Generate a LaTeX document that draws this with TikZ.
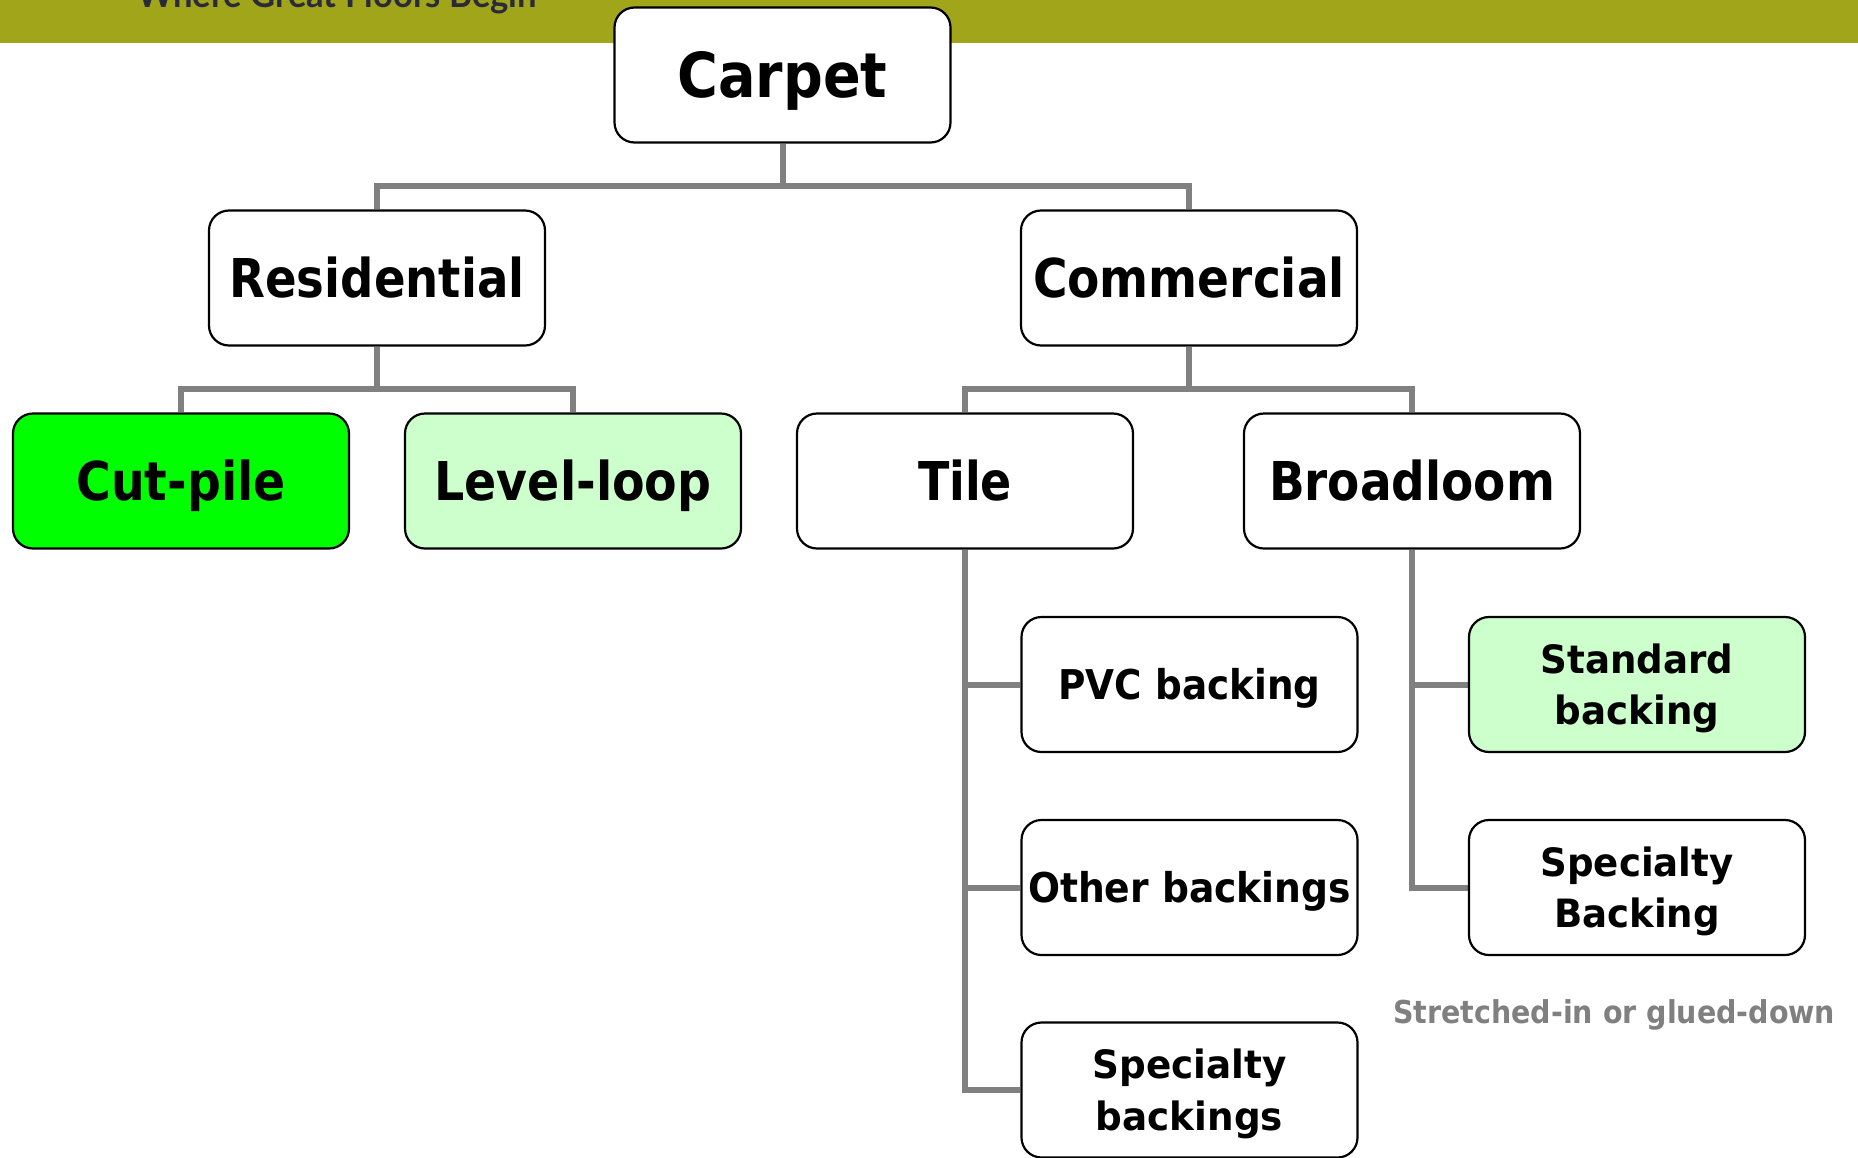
\documentclass[tikz,border=0pt]{standalone}
\usepackage{fontspec}
\setmainfont{DejaVu Sans}
\newfontfamily\hdrfont{Lato}
\usepackage{graphicx}
\usetikzlibrary{backgrounds}
\definecolor{bandolive}{HTML}{A1A51A}
\definecolor{linegray}{HTML}{808080}
\definecolor{hdrtext}{HTML}{2B2A3A}
\definecolor{brightgreen}{HTML}{00FF00}
\definecolor{palegreen}{HTML}{CCFFCC}
\newsavebox\fitbox
\newlength\fitlen
\newcommand\fitw[2]{\sbox\fitbox{#2}\setlength\fitlen{\wd\fitbox}\pgfmathsetmacro\fitratio{#1/\fitlen}\scalebox{\fitratio}[1]{\usebox\fitbox}}
\tikzset{
  box/.style={draw=black, line width=2.2pt, rounded corners=20pt, fill=white,
    minimum width=336pt, minimum height=135pt, inner sep=0pt},
  lvlA/.style={box, font=\bfseries\fontsize{62}{62}\selectfont, text height=45pt, text depth=-12pt},
  lvlB/.style={box, font=\bfseries\fontsize{53.5}{54}\selectfont, text height=39pt, text depth=-8pt},
  lvlC/.style={box, font=\bfseries\fontsize{41}{41}\selectfont, text height=30pt, text depth=-9pt},
  lvlD/.style={box, font=\bfseries\fontsize{39}{51.5}\selectfont, text height=80pt, text depth=-6.5pt},
  conn/.style={draw=linegray, line width=6pt},
}
\begin{document}
\begin{tikzpicture}[x=1pt, y=-1pt]
\useasboundingbox (0,0) rectangle (1858,1157);
\begin{scope}
\clip (0,0) rectangle (1858,1157);
\fill[bandolive] (0,0) rectangle (1858,43);
\node[anchor=base west, inner sep=0pt, font=\hdrfont\bfseries\fontsize{36}{36}\selectfont, text=hdrtext] (hdr) at (137,7) {\fitw{400}{Where Great Floors Begin}};

\node[lvlA] (carpet) at (782.5,75) {\fitw{210}{Carpet}};
\node[lvlB] (resid) at (377,278) {\fitw{295}{Residential}};
\node[lvlB] (comm) at (1189,278) {\fitw{312}{Commercial}};
\node[lvlB, fill=brightgreen] (cut) at (181,481) {\fitw{209}{Cut-pile}};
\node[lvlB, fill=palegreen] (level) at (573,481) {\fitw{277}{Level-loop}};
\node[lvlB] (tile) at (965,481) {\fitw{94}{Tile}};
\node[lvlB] (broad) at (1412,481) {\fitw{286}{Broadloom}};
\node[lvlC] (pvc) at (1189.5,684.5) {\fitw{262}{PVC backing}};
\node[lvlC] (other) at (1189.5,887.5) {\fitw{323}{Other backings}};
\node[lvlD] (specs) at (1189.5,1090) {\fitw{194}{\begin{tabular}[b]{@{}c@{}}Specialty\\backings\end{tabular}}};
\node[lvlD, fill=palegreen] (std) at (1637,684.5) {\fitw{193}{\begin{tabular}[b]{@{}c@{}}Standard\\backing\end{tabular}}};
\node[lvlD] (specB) at (1637,887.5) {\fitw{193}{\begin{tabular}[b]{@{}c@{}}Specialty\\Backing\end{tabular}}};

\node[anchor=base west, inner sep=0pt, font=\bfseries\fontsize{31.5}{32}\selectfont, text=linegray] (note) at (1393,1023) {\fitw{442}{Stretched-in or glued-down}};

\coordinate (j0) at (782.5,186);
\coordinate (j1) at (377,389);
\coordinate (j2) at (1189,389);
\begin{scope}[on background layer]
\draw[conn] (carpet.south) -- (j0);
\draw[conn] (resid.north) |- (j0) -| (comm.north);
\draw[conn] (resid.south) -- (j1);
\draw[conn] (cut.north) |- (j1) -| (level.north);
\draw[conn] (comm.south) -- (j2);
\draw[conn] (tile.north) |- (j2) -| (broad.north);
\draw[conn] (tile.south) |- (pvc.west);
\draw[conn] (tile.south) |- (other.west);
\draw[conn] (tile.south) |- (specs.west);
\draw[conn] (broad.south) |- (std.west);
\draw[conn] (broad.south) |- (specB.west);
\end{scope}
\end{scope}
\end{tikzpicture}
\end{document}
